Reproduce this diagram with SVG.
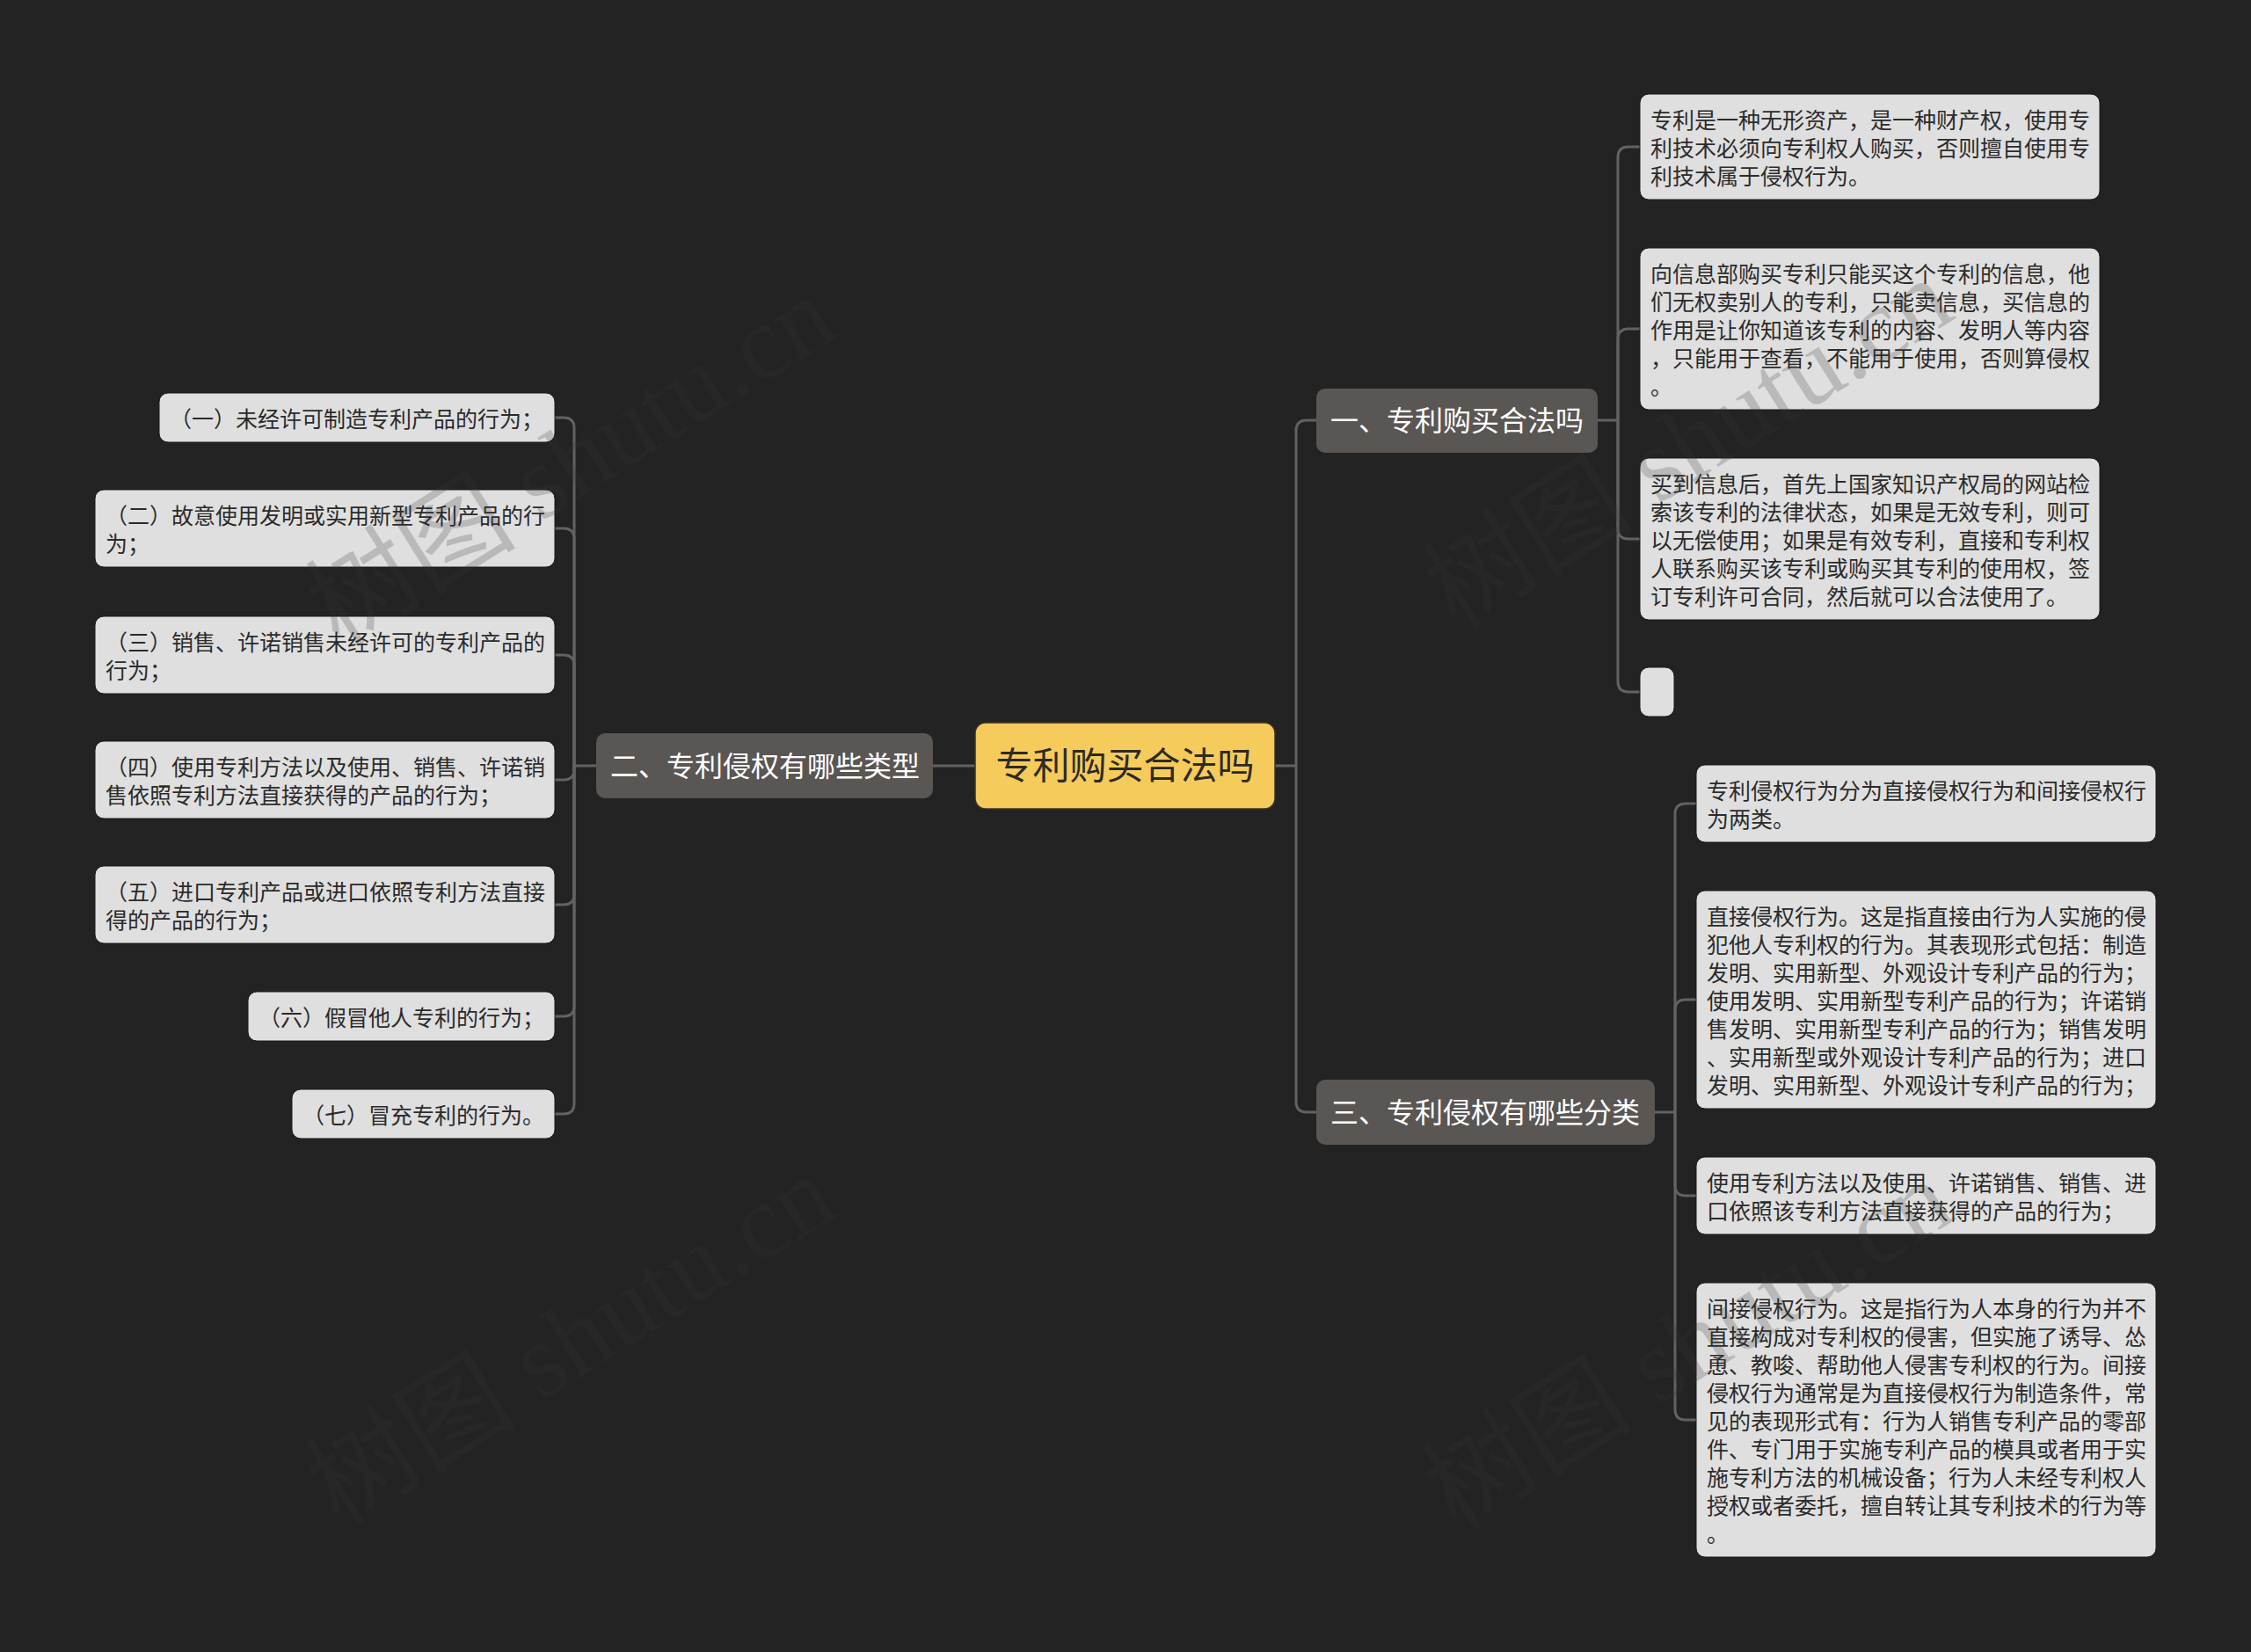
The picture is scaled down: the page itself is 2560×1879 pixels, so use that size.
<svg xmlns="http://www.w3.org/2000/svg" width="2560" height="1879" viewBox="0 0 2560 1879">
<style>
.bg{fill:#232323}
.conn path{fill:none;stroke:#626262;stroke-width:3}
.root rect{fill:#f5cb5c;stroke:#3a3322;stroke-width:1.5}
.root text{fill:#2d2a24;font-size:42px}
.branch rect{fill:#5a5653}
.branch text{fill:#ffffff;font-size:32px}
.leaf rect{fill:#dfdfdf;stroke:#1a1a1a;stroke-width:1}
.leaf text{fill:#2b2b2b;font-size:25px}
text{font-family:"Noto Sans CJK SC","Noto Sans",sans-serif}
.wm text{font-family:"Liberation Serif","Noto Sans CJK SC",serif;font-size:120px;fill:#383838;opacity:0.22}
</style>
<rect class="bg" x="0" y="0" width="2560" height="1879"/>

<g id="connectors" class="conn">
<path d="M1109,871 H1061"/>
<path d="M1450,871 H1474"/>
<path d="M1474,871 V490 Q1474,478 1486,478 H1497"/>
<path d="M1474,871 V1253 Q1474,1265 1486,1265 H1497"/>
<path d="M1817,478 H1840"/>
<path d="M1840,478 V179 Q1840,167 1852,167 H1865"/>
<path d="M1840,478 V386 Q1840,374 1852,374 H1865"/>
<path d="M1840,478 V601 Q1840,613 1852,613 H1865"/>
<path d="M1840,478 V775 Q1840,787 1852,787 H1865"/>
<path d="M1882,1265 H1905"/>
<path d="M1905,1265 V926 Q1905,914 1917,914 H1929"/>
<path d="M1905,1265 V1149 Q1905,1137 1917,1137 H1929"/>
<path d="M1905,1265 V1348 Q1905,1360 1917,1360 H1929"/>
<path d="M1905,1265 V1603 Q1905,1615 1917,1615 H1929"/>
<path d="M678,871 H653"/>
<path d="M653,871 V487 Q653,475 641,475 H631"/>
<path d="M653,871 V613 Q653,601 641,601 H631"/>
<path d="M653,871 V757 Q653,745 641,745 H631"/>
<path d="M653,871 V875 Q653,887 641,887 H631"/>
<path d="M653,871 V1017 Q653,1029 641,1029 H631"/>
<path d="M653,871 V1144 Q653,1156 641,1156 H631"/>
<path d="M653,871 V1255 Q653,1267 641,1267 H631"/>
</g>

<g id="root" class="root">
<rect x="1109" y="822" width="341" height="98" rx="12"/>
<text x="1279.5" y="886" text-anchor="middle">专利购买合法吗</text>
</g>

<g id="b1" class="branch">
<rect x="1497" y="442" width="320" height="73" rx="10"/>
<text x="1513" y="489.5">一、专利购买合法吗</text>
</g>
<g id="b2" class="branch">
<rect x="678" y="834" width="383" height="74" rx="10"/>
<text x="694" y="882.5">二、专利侵权有哪些类型</text>
</g>
<g id="b3" class="branch">
<rect x="1497" y="1228" width="385" height="74" rx="10"/>
<text x="1513" y="1276.5">三、专利侵权有哪些分类</text>
</g>

<g id="n1a" class="leaf">
<rect x="1865" y="107" width="523" height="120" rx="10"/>
<text><tspan x="1877" y="146">专利是一种无形资产，是一种财产权，使用专</tspan><tspan x="1877" y="178">利技术必须向专利权人购买，否则擅自使用专</tspan><tspan x="1877" y="210">利技术属于侵权行为。</tspan></text>
</g>
<g id="n1b" class="leaf">
<rect x="1865" y="282" width="523" height="184" rx="10"/>
<text><tspan x="1877" y="321">向信息部购买专利只能买这个专利的信息，他</tspan><tspan x="1877" y="353">们无权卖别人的专利，只能卖信息，买信息的</tspan><tspan x="1877" y="385">作用是让你知道该专利的内容、发明人等内容</tspan><tspan x="1877" y="417">，只能用于查看，不能用于使用，否则算侵权</tspan><tspan x="1877" y="449">。</tspan></text>
</g>
<g id="n1c" class="leaf">
<rect x="1865" y="521" width="523" height="184" rx="10"/>
<text><tspan x="1877" y="560">买到信息后，首先上国家知识产权局的网站检</tspan><tspan x="1877" y="592">索该专利的法律状态，如果是无效专利，则可</tspan><tspan x="1877" y="624">以无偿使用；如果是有效专利，直接和专利权</tspan><tspan x="1877" y="656">人联系购买该专利或购买其专利的使用权，签</tspan><tspan x="1877" y="688">订专利许可合同，然后就可以合法使用了。</tspan></text>
</g>
<g id="n1d" class="leaf">
<rect x="1865" y="759" width="39" height="56" rx="10"/>
</g>

<g id="n3a" class="leaf">
<rect x="1929" y="870" width="523" height="88" rx="10"/>
<text><tspan x="1941" y="909">专利侵权行为分为直接侵权行为和间接侵权行</tspan><tspan x="1941" y="941">为两类。</tspan></text>
</g>
<g id="n3b" class="leaf">
<rect x="1929" y="1013" width="523" height="248" rx="10"/>
<text><tspan x="1941" y="1052">直接侵权行为。这是指直接由行为人实施的侵</tspan><tspan x="1941" y="1084">犯他人专利权的行为。其表现形式包括：制造</tspan><tspan x="1941" y="1116">发明、实用新型、外观设计专利产品的行为；</tspan><tspan x="1941" y="1148">使用发明、实用新型专利产品的行为；许诺销</tspan><tspan x="1941" y="1180">售发明、实用新型专利产品的行为；销售发明</tspan><tspan x="1941" y="1212">、实用新型或外观设计专利产品的行为；进口</tspan><tspan x="1941" y="1244">发明、实用新型、外观设计专利产品的行为；</tspan></text>
</g>
<g id="n3c" class="leaf">
<rect x="1929" y="1316" width="523" height="88" rx="10"/>
<text><tspan x="1941" y="1355">使用专利方法以及使用、许诺销售、销售、进</tspan><tspan x="1941" y="1387">口依照该专利方法直接获得的产品的行为；</tspan></text>
</g>
<g id="n3d" class="leaf">
<rect x="1929" y="1459" width="523" height="312" rx="10"/>
<text><tspan x="1941" y="1498">间接侵权行为。这是指行为人本身的行为并不</tspan><tspan x="1941" y="1530">直接构成对专利权的侵害，但实施了诱导、怂</tspan><tspan x="1941" y="1562">恿、教唆、帮助他人侵害专利权的行为。间接</tspan><tspan x="1941" y="1594">侵权行为通常是为直接侵权行为制造条件，常</tspan><tspan x="1941" y="1626">见的表现形式有：行为人销售专利产品的零部</tspan><tspan x="1941" y="1658">件、专门用于实施专利产品的模具或者用于实</tspan><tspan x="1941" y="1690">施专利方法的机械设备；行为人未经专利权人</tspan><tspan x="1941" y="1722">授权或者委托，擅自转让其专利技术的行为等</tspan><tspan x="1941" y="1754">。</tspan></text>
</g>

<g id="n2a" class="leaf">
<rect x="181" y="447" width="450" height="56" rx="10"/>
<text x="193" y="486">（一）未经许可制造专利产品的行为；</text>
</g>
<g id="n2b" class="leaf">
<rect x="108" y="557" width="523" height="88" rx="10"/>
<text><tspan x="120" y="596">（二）故意使用发明或实用新型专利产品的行</tspan><tspan x="120" y="628">为；</tspan></text>
</g>
<g id="n2c" class="leaf">
<rect x="108" y="701" width="523" height="88" rx="10"/>
<text><tspan x="120" y="740">（三）销售、许诺销售未经许可的专利产品的</tspan><tspan x="120" y="772">行为；</tspan></text>
</g>
<g id="n2d" class="leaf">
<rect x="108" y="843" width="523" height="88" rx="10"/>
<text><tspan x="120" y="882">（四）使用专利方法以及使用、销售、许诺销</tspan><tspan x="120" y="914">售依照专利方法直接获得的产品的行为；</tspan></text>
</g>
<g id="n2e" class="leaf">
<rect x="108" y="985" width="523" height="88" rx="10"/>
<text><tspan x="120" y="1024">（五）进口专利产品或进口依照专利方法直接</tspan><tspan x="120" y="1056">得的产品的行为；</tspan></text>
</g>
<g id="n2f" class="leaf">
<rect x="282" y="1128" width="349" height="56" rx="10"/>
<text x="294" y="1167">（六）假冒他人专利的行为；</text>
</g>
<g id="n2g" class="leaf">
<rect x="332" y="1239" width="299" height="56" rx="10"/>
<text x="344" y="1278">（七）冒充专利的行为。</text>
</g>

<g id="watermarks" class="wm">
<text x="650" y="565" text-anchor="middle" transform="rotate(-32 650 525)">树图 shutu.cn</text>
<text x="1920" y="545" text-anchor="middle" transform="rotate(-32 1920 505)">树图 shutu.cn</text>
<text x="650" y="1565" text-anchor="middle" transform="rotate(-32 650 1525)">树图 shutu.cn</text>
<text x="1920" y="1570" text-anchor="middle" transform="rotate(-32 1920 1530)">树图 shutu.cn</text>
</g>
</svg>
